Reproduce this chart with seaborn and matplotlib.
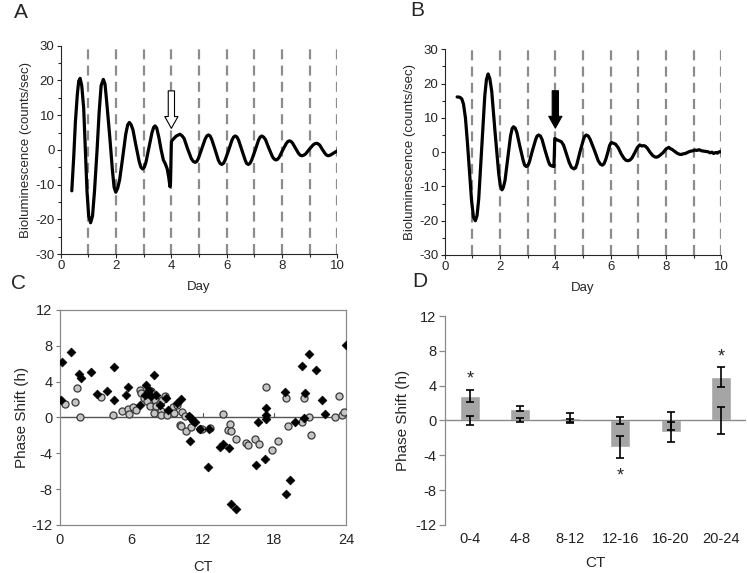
import numpy as np
import pandas as pd
import matplotlib.pyplot as plt
import seaborn as sns

# ---- data ----
# panel A: bioluminescence trace, white arrow at day 4
day_a = [0.40, 0.47, 0.53, 0.60, 0.65, 0.70, 0.76, 0.83, 0.89, 0.95, 1.01, 1.08,
         1.15, 1.22, 1.31, 1.39, 1.46, 1.54, 1.60, 1.66, 1.77, 1.87, 1.93, 1.99,
         2.06, 2.13, 2.24, 2.35, 2.42, 2.48, 2.54, 2.61, 2.72, 2.84, 2.90, 2.96,
         3.02, 3.08, 3.19, 3.30, 3.36, 3.41, 3.47, 3.55, 3.63, 3.71, 3.78, 3.85,
         3.90, 3.95, 3.97, 4.00, 4.08, 4.18, 4.31, 4.38, 4.46, 4.58, 4.72, 4.79,
         4.86, 4.92, 4.98, 5.10, 5.22, 5.28, 5.34, 5.40, 5.46, 5.58, 5.70, 5.76,
         5.82, 5.88, 5.94, 6.07, 6.19, 6.25, 6.31, 6.37, 6.43, 6.55, 6.67, 6.72,
         6.78, 6.84, 6.90, 7.03, 7.15, 7.21, 7.27, 7.33, 7.40, 7.52, 7.65, 7.71,
         7.78, 7.84, 7.90, 8.02, 8.15, 8.21, 8.27, 8.33, 8.38, 8.49, 8.60, 8.66,
         8.71, 8.78, 8.85, 8.98, 9.12, 9.18, 9.25, 9.30, 9.36, 9.46, 9.57, 9.62,
         9.67, 9.75, 9.85, 9.93, 10.0]
lum_a = [-11.8, -2.0, 8.0, 16.0, 19.8, 20.6, 18.5, 12.0, 0.0, -12.0, -19.0, -21.0,
         -19.0, -12.0, -0.5, 11.0, 18.5, 20.3, 19.0, 14.0, 4.0, -6.0, -10.8, -12.2,
         -11.0, -8.6, -2.2, 4.5, 7.2, 7.9, 7.3, 5.8, 1.2, -3.5, -5.0, -5.5,
         -5.0, -3.6, 0.7, 5.0, 6.5, 6.9, 6.3, 3.5, 0.0, -2.9, -4.0, -5.5,
         -7.7, -10.6, -9.0, 2.4, 3.2, 4.0, 4.5, 4.1, 3.3, 0.45, -2.5, -3.3,
         -3.6, -3.3, -2.4, 0.35, 3.1, 4.0, 4.3, 4.0, 3.0, 0.05, -3.0, -3.9,
         -4.2, -3.9, -3.0, -0.1, 2.8, 3.7, 4.0, 3.7, 2.8, -0.1, -3.0, -3.9,
         -4.2, -3.9, -3.0, -0.1, 2.8, 3.7, 4.0, 3.7, 3.0, 0.55, -1.9, -2.6,
         -2.9, -2.7, -2.1, -0.15, 1.8, 2.4, 2.6, 2.4, 1.95, 0.45, -1.05, -1.55,
         -1.7, -1.55, -1.2, 0.1, 1.4, 1.75, 1.9, 1.75, 1.4, 0.1, -1.2, -1.55,
         -1.7, -1.5, -1.0, -0.6, -0.3]

# panel B: bioluminescence trace, black arrow at day 4
day_b = [0.45, 0.55, 0.62, 0.68, 0.75, 0.82, 0.90, 0.97, 1.04, 1.11,
         1.17, 1.23, 1.34, 1.45, 1.51, 1.57, 1.63, 1.70, 1.82, 1.95, 2.01, 2.07,
         2.12, 2.18, 2.28, 2.38, 2.44, 2.49, 2.55, 2.61, 2.72, 2.84, 2.89, 2.95,
         3.01, 3.06, 3.17, 3.29, 3.34, 3.40, 3.46, 3.52, 3.63, 3.75, 3.80, 3.86,
         3.95, 3.98, 4.05, 4.15, 4.22, 4.30, 4.40, 4.50, 4.58, 4.67,
         4.73, 4.78, 4.89, 5.01, 5.06, 5.12, 5.19, 5.26, 5.41, 5.55, 5.63, 5.70,
         5.76, 5.82, 5.90, 5.96, 6.02, 6.10, 6.18, 6.28, 6.38, 6.48, 6.56, 6.63,
         6.70, 6.77, 6.87, 6.97, 7.05, 7.12, 7.20, 7.26, 7.33, 7.42, 7.52, 7.60, 7.65,
         7.72, 7.80, 7.90, 8.00, 8.10, 8.16, 8.22, 8.30, 8.40, 8.48, 8.55, 8.62,
         8.70, 8.80, 8.90, 8.98, 9.05, 9.12, 9.20, 9.28, 9.36, 9.44, 9.52, 9.60,
         9.66, 9.72, 9.80, 9.86, 9.92, 10.0]
lum_b = [16.1, 16.0, 15.5, 14.0, 10.0, 3.0, -6.0, -14.0, -19.0, -20.0,
         -18.5, -13.7, 1.4, 16.5, 21.2, 22.8, 21.5, 17.8, 5.9, -6.0, -9.8, -11.0,
         -10.3, -8.3, -1.8, 4.7, 6.9, 7.4, 7.0, 5.7, 1.6, -2.5, -3.8, -4.2,
         -3.9, -2.9, 0.4, 3.7, 4.7, 5.0, 4.7, 3.7, 0.5, -2.7, -3.7, -4.0,
         -4.2, 4.0, 3.6, 3.3, 3.0, 2.0, -0.5, -3.0, -4.4, -4.9,
         -4.6, -3.5, 0.05, 3.5, 4.6, 5.0, 4.7, 3.7, 0.6, -2.5, -3.5, -3.8,
         -3.4, -2.2, 0.0, 1.9, 2.8, 2.6, 2.3, 1.2, -0.5, -1.8, -2.4, -2.5,
         -2.3, -1.7, -0.2, 1.4, 2.1, 1.8, 1.9, 1.7, 1.1, 0.0, -1.0, -1.4, -1.5,
         -1.3, -0.8, -0.1, 0.9, 1.4, 1.0, 0.8, 0.3, -0.3, -0.6, -0.7, -0.5,
         -0.4, 0.0, 0.3, 0.4, 0.6, 0.5, 0.7, 0.4, 0.3, 0.2, 0.1, -0.2,
         0.0, -0.4, -0.1, -0.3, 0.1, 0.1]

# panel C: phase shift vs CT
dia_ct = [0.1, 0.2, 1.0, 1.6, 1.8, 2.6, 3.1, 4.0, 4.6, 4.6, 5.7, 5.6, 6.7, 7.25,
          7.5, 7.2, 7.7, 7.9, 8.05, 8.4, 8.95, 9.1, 9.8, 10.15, 10.85, 10.9, 11.05,
          11.2, 11.35, 11.75, 12.4, 12.55, 13.45, 13.7, 14.2, 14.4, 14.8, 16.45,
          16.6, 17.2, 17.3, 17.3, 17.3, 18.9, 19.0, 19.3, 19.7, 20.3, 20.45, 20.55,
          20.9, 21.5, 22.0, 22.2, 24.0]
dia_shift = [1.9, 6.25, 7.3, 4.9, 4.4, 5.05, 2.65, 3.0, 5.6, 1.95, 3.35, 2.55, 1.4, 3.6,
             3.1, 2.5, 2.4, 4.7, 2.5, 1.4, 2.15, 0.85, 1.6, 2.1, 0.2, -2.6, -0.05,
             -0.35, -0.55, -1.3, -5.5, -1.25, -3.35, -2.95, -3.4, -9.7, -10.2, -5.35,
             -0.5, -4.65, 1.05, 0.3, -0.2, 2.9, -8.5, -6.95, -0.45, 5.8, -0.1, 2.7,
             7.07, 5.3, 1.9, 0.41, 8.04]
cir_ct = [0.45, 1.3, 1.5, 1.7, 3.45, 4.45, 5.25, 5.7, 5.85, 6.15, 6.4, 6.7, 6.85, 7.1,
          7.35, 7.55, 7.7, 7.8, 8.0, 8.1, 7.95, 8.4, 8.5, 8.55, 8.5, 8.85, 9.0, 9.5,
          9.6, 9.85, 10.25, 10.1, 10.2, 10.5, 10.6, 11.0, 11.75, 11.9, 12.6, 13.7,
          14.15, 14.25, 14.35, 14.8, 15.6, 15.75, 16.4, 16.7, 17.3, 17.8, 18.3, 19.0,
          19.1, 20.3, 20.5, 20.9, 21.1, 23.1, 23.45, 23.7, 23.85]
cir_shift = [1.45, 1.7, 3.25, 0.0, 2.25, 0.3, 0.67, 1.0, 0.35, 1.15, 0.8, 3.1, 2.7, 2.15,
             1.8, 1.25, 3.0, 2.5, 2.0, 1.3, 0.45, 1.6, 0.7, 2.0, 0.25, 2.45, 0.25, 1.15,
             0.55, 1.35, 0.6, -0.8, -1.0, 0.2, -1.55, -1.1, -1.25, -1.3, -1.15, 0.35,
             -1.35, -0.75, -1.55, -2.4, -2.8, -3.1, -2.45, -2.95, 3.45, -3.6, -2.6, 2.15,
             -1.0, -0.45, 2.2, 0.0, -1.95, 0.1, 2.35, 0.3, 0.65]

# panel D: binned means
ct_bins = ['0-4', '4-8', '8-12', '12-16', '16-20', '20-24']
shift_mean = [2.85, 1.35, 0.3, -3.05, -1.3, 5.0]
shift_sem = [0.7, 0.3, 0.55, 1.25, 1.15, 1.1]
ctrl_mean = [0.0, 0.05, 0.0, 0.0, -0.05, 0.0]
ctrl_sem = [0.5, 0.25, 0.2, 0.4, 1.05, 1.5]
signif = [True, False, False, True, False, True]

sns.set_style('ticks')
plt.rcParams['font.family'] = ['Liberation Sans', 'DejaVu Sans']
plt.rcParams['axes.unicode_minus'] = False

fig = plt.figure(figsize=(7.47, 5.73), dpi=100)
fs = 9.5


def trace_panel(rect, days, lum, arrow_fc, arrow_tail_y, arrow_tip_y):
    ax = fig.add_axes(rect)
    for d in range(1, 11):
        ax.axvline(d, color='#8c8c8c', lw=1.6, dashes=(4.5, 2.8), zorder=1)
    sns.lineplot(x=days, y=lum, ax=ax, color='black', lw=2.3, estimator=None,
                 sort=False, zorder=3)
    ax.annotate('', xy=(4, arrow_tip_y), xytext=(4, arrow_tail_y),
                arrowprops=dict(arrowstyle='simple,head_length=0.85,head_width=0.95,tail_width=0.45',
                                mutation_scale=10, fc=arrow_fc, ec='black', lw=0.8,
                                shrinkA=0, shrinkB=0), zorder=5)
    ax.set_xlim(0, 10)
    ax.set_ylim(-30, 30)
    ax.set_xticks(range(0, 11, 2))
    ax.set_xticks(range(1, 10, 2), minor=True)
    ax.set_yticks(range(-30, 31, 10))
    ax.set_yticks(range(-25, 30, 10), minor=True)
    ax.tick_params(labelsize=fs, length=3, width=0.8, pad=1.5)
    ax.tick_params(which='minor', length=2, width=0.8)
    for s in ['top', 'right']:
        ax.spines[s].set_visible(False)
    for s in ['left', 'bottom']:
        ax.spines[s].set_linewidth(0.8)
    ax.set_xlabel('Day', fontsize=fs, labelpad=6)
    ax.set_ylabel('Bioluminescence (counts/sec)', fontsize=fs, labelpad=2)
    return ax


trace_panel([0.0813, 0.5567, 0.3703, 0.3635], day_a, lum_a, 'white', 17.0, 6.2)
trace_panel([0.5953, 0.555, 0.3703, 0.359], day_b, lum_b, 'black', 17.9, 7.0)

# panel C
axc = fig.add_axes([0.0797, 0.0838, 0.3835, 0.3752])
axc.axhline(0, color='#555555', lw=1.0, zorder=1)
sns.scatterplot(x=cir_ct, y=cir_shift, ax=axc, marker='o', s=26,
                color='#c4c4c4', edgecolor='#3a3a3a', linewidth=0.9, zorder=3)
sns.scatterplot(x=dia_ct, y=dia_shift, ax=axc, marker='D', s=20,
                color='black', edgecolor='black', linewidth=0.5, zorder=4)
axc.set_xlim(0, 24)
axc.set_ylim(-12, 12)
axc.set_xticks(range(0, 25, 6))
axc.set_yticks(range(-12, 13, 4))
for t in axc.get_xticks()[1:-1]:
    axc.plot([t, t], [0, 0.45], color='#555555', lw=0.8, zorder=1)
axc.tick_params(axis='x', length=0, labelsize=fs + 1, pad=6)
axc.tick_params(axis='y', length=3, width=0.8, labelsize=fs + 1, color='#777777', pad=2)
for s in axc.spines.values():
    s.set_color('#8a8a8a')
    s.set_linewidth(0.9)
axc.set_xlabel('CT', fontsize=fs + 1, labelpad=9)
axc.set_ylabel('Phase Shift (h)', fontsize=fs + 1.5, labelpad=2)

# panel D
axd = fig.add_axes([0.5953, 0.0838, 0.4033, 0.3647])
df = pd.DataFrame({'CT': ct_bins, 'shift': shift_mean})
sns.barplot(data=df, x='CT', y='shift', ax=axd, color='#a5a5a5', width=0.4,
            saturation=1, errorbar=None, zorder=2)
pos = np.arange(len(ct_bins))
axd.errorbar(pos, shift_mean, yerr=shift_sem, fmt='none', ecolor='black',
             elinewidth=1.2, capsize=3.2, capthick=1.2, zorder=4)
axd.errorbar(pos, ctrl_mean, yerr=ctrl_sem, fmt='none', ecolor='black',
             elinewidth=1.2, capsize=3.2, capthick=1.2, zorder=4)
axd.axhline(0, color='#8a8a8a', lw=1.0, zorder=3)
for p, m, e, sg in zip(pos, shift_mean, shift_sem, signif):
    if sg:
        y = m + e + 1.2 if m > 0 else m - e - 2.1
        axd.text(p, y, '*', ha='center', va='center', fontsize=13)
axd.set_xlim(-0.5, 5.5)
axd.set_ylim(-12, 12)
axd.set_yticks(range(-12, 13, 4))
axd.spines['bottom'].set_visible(False)
axd.spines['top'].set_visible(False)
axd.spines['right'].set_visible(False)
axd.spines['left'].set_color('#8a8a8a')
axd.spines['left'].set_linewidth(0.9)
axd.tick_params(axis='x', length=0, labelsize=fs + 1, pad=5, labelcolor='#222222')
axd.tick_params(axis='y', length=4, width=0.9, color='#8a8a8a', labelsize=fs + 1,
                labelcolor='#222222', pad=2)
axd.set_xlabel('CT', fontsize=fs + 1.5, labelpad=7)
axd.set_ylabel('Phase Shift (h)', fontsize=fs + 1.5, labelpad=4)

# panel letters
for lbl, x, y in [('A', 0.028, 0.979), ('B', 0.558, 0.981), ('C', 0.025, 0.506), ('D', 0.562, 0.508)]:
    fig.text(x, y, lbl, fontsize=15, ha='center', va='center')

fig.savefig('out.png', dpi=100)
